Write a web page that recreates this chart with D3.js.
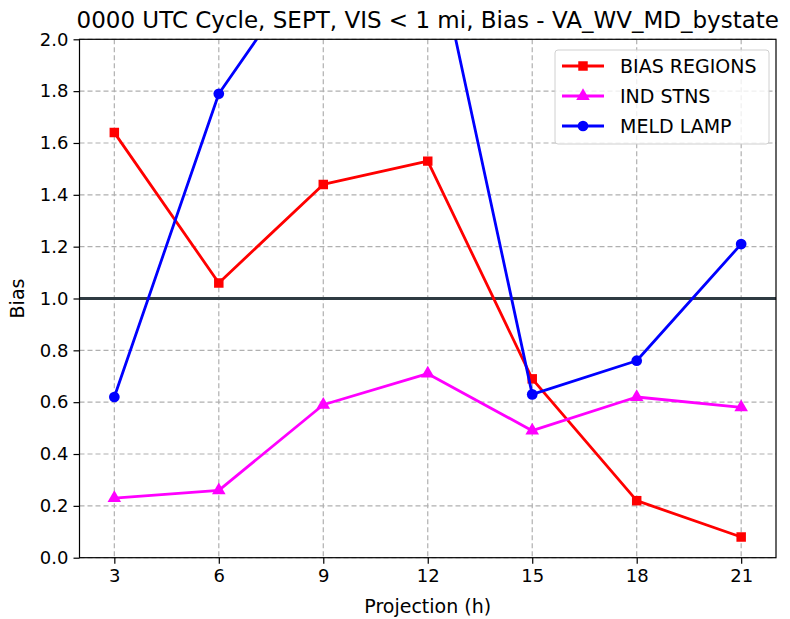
<!DOCTYPE html>
<html lang="en">
<head>
    <meta charset="UTF-8">
    <title>Bias - VA_WV_MD_bystate</title>
    <script src="https://d3js.org/d3.v7.min.js"></script>
    <style>
        body { margin: 0; background: #fff; }
        text { font-family: "DejaVu Sans", sans-serif; fill: #000; }
    </style>
</head>
<body>
    <div id="chart-container"></div>

    <script>
        // data
        const projections = [3, 6, 9, 12, 15, 18, 21];
        const biasRegions = [1.64, 1.06, 1.44, 1.53, 0.69, 0.22, 0.08];
        const indStns = [0.23, 0.26, 0.59, 0.71, 0.49, 0.62, 0.58];
        const meldLamp = [0.62, 1.79, 2.37, 2.5, 0.63, 0.76, 1.21];
        const yTicks = [0.0, 0.2, 0.4, 0.6, 0.8, 1.0, 1.2, 1.4, 1.6, 1.8, 2.0];
        const seriesNames = ["BIAS REGIONS", "IND STNS", "MELD LAMP"];

        const series = [
            { name: seriesNames[0], values: biasRegions, color: "#ff0000", marker: d3.symbolSquare },
            { name: seriesNames[1], values: indStns, color: "#ff00ff", marker: d3.symbolTriangle },
            { name: seriesNames[2], values: meldLamp, color: "#0000ff", marker: d3.symbolCircle }
        ];

        const width = 790, height = 619;
        const margin = { left: 79.5, right: 14, top: 39.3, bottom: 61.3 };
        const innerW = width - margin.left - margin.right;
        const innerH = height - margin.top - margin.bottom;

        const markerSize = m => m === d3.symbolTriangle ? 80 : 90;

        const svg = d3.select("#chart-container")
            .append("svg")
            .attr("width", width)
            .attr("height", height);

        const g = svg.append("g")
            .attr("transform", "translate(" + margin.left + "," + margin.top + ")");

        const x = d3.scaleLinear().domain([2, 22]).range([0, innerW]);
        const y = d3.scaleLinear().domain([0, 2]).range([innerH, 0]);

        // clip so the lines going over 2.0 get cut at the top
        svg.append("defs").append("clipPath")
            .attr("id", "plot-clip")
            .append("rect")
            .attr("width", innerW)
            .attr("height", innerH);

        // grid
        g.append("g")
            .selectAll("line")
            .data(projections)
            .enter().append("line")
            .attr("x1", d => x(d)).attr("x2", d => x(d))
            .attr("y1", 0).attr("y2", innerH)
            .attr("stroke", "#b0b0b0")
            .attr("stroke-width", 1.2)
            .attr("stroke-dasharray", "5,3");

        g.append("g")
            .selectAll("line")
            .data(yTicks)
            .enter().append("line")
            .attr("x1", 0).attr("x2", innerW)
            .attr("y1", d => y(d)).attr("y2", d => y(d))
            .attr("stroke", "#b0b0b0")
            .attr("stroke-width", 1.2)
            .attr("stroke-dasharray", "5,3");

        // reference line at bias = 1
        g.append("line")
            .attr("x1", 0).attr("x2", innerW)
            .attr("y1", y(1)).attr("y2", y(1))
            .attr("stroke", "#2f3b42")
            .attr("stroke-width", 3.2);

        const plot = g.append("g").attr("clip-path", "url(#plot-clip)");

        const line = d3.line()
            .x((d, i) => x(projections[i]))
            .y(d => y(d));

        series.forEach(s => {
            plot.append("path")
                .datum(s.values)
                .attr("fill", "none")
                .attr("stroke", s.color)
                .attr("stroke-width", 2.8)
                .attr("stroke-linejoin", "round")
                .attr("d", line);

            plot.selectAll(null)
                .data(s.values)
                .enter().append("path")
                .attr("transform", (d, i) => "translate(" + x(projections[i]) + "," + y(d) + ")")
                .attr("d", d3.symbol().type(s.marker).size(markerSize(s.marker)))
                .attr("fill", s.color);
        });

        // axes
        const xAxis = d3.axisBottom(x)
            .tickValues(projections)
            .tickSize(6)
            .tickPadding(6)
            .tickSizeOuter(0);

        const yAxis = d3.axisLeft(y)
            .tickValues(yTicks)
            .tickFormat(d3.format(".1f"))
            .tickSize(6)
            .tickPadding(5)
            .tickSizeOuter(0);

        const gx = g.append("g")
            .attr("transform", "translate(0," + innerH + ")")
            .call(xAxis);
        const gy = g.append("g").call(yAxis);

        [gx, gy].forEach(a => {
            a.select(".domain").remove();
            a.selectAll(".tick line").attr("stroke", "#000").attr("stroke-width", 1.2);
            a.selectAll(".tick text")
                .style("font-family", "DejaVu Sans, sans-serif")
                .style("font-size", "18px")
                .attr("fill", "#000");
        });

        // frame
        g.append("rect")
            .attr("width", innerW)
            .attr("height", innerH)
            .attr("fill", "none")
            .attr("stroke", "#000")
            .attr("stroke-width", 1.2);

        // labels
        svg.append("text")
            .attr("x", margin.left + innerW / 2)
            .attr("y", 28)
            .attr("text-anchor", "middle")
            .style("font-size", "23px")
            .text("0000 UTC Cycle, SEPT, VIS < 1 mi, Bias - VA_WV_MD_bystate");

        svg.append("text")
            .attr("x", margin.left + innerW / 2)
            .attr("y", 613)
            .attr("text-anchor", "middle")
            .style("font-size", "19px")
            .text("Projection (h)");

        svg.append("text")
            .attr("transform", "translate(24," + (margin.top + innerH / 2) + ") rotate(-90)")
            .attr("text-anchor", "middle")
            .style("font-size", "19px")
            .text("Bias");

        // legend
        const legend = svg.append("g").attr("transform", "translate(555,50)");

        legend.append("rect")
            .attr("width", 214)
            .attr("height", 94)
            .attr("rx", 3)
            .attr("fill", "#fff")
            .attr("fill-opacity", 0.8)
            .attr("stroke", "#d0d0d0")
            .attr("stroke-width", 1);

        const items = legend.selectAll("g")
            .data(series)
            .enter().append("g")
            .attr("transform", (d, i) => "translate(0," + (16 + i * 30) + ")");

        items.append("line")
            .attr("x1", 7).attr("x2", 49)
            .attr("stroke", d => d.color)
            .attr("stroke-width", 2.8);

        items.append("path")
            .attr("transform", "translate(28,0)")
            .attr("d", d => d3.symbol().type(d.marker).size(markerSize(d.marker))())
            .attr("fill", d => d.color);

        items.append("text")
            .attr("x", 65)
            .attr("dy", "0.35em")
            .style("font-size", "19px")
            .text(d => d.name);
    </script>
</body>
</html>
